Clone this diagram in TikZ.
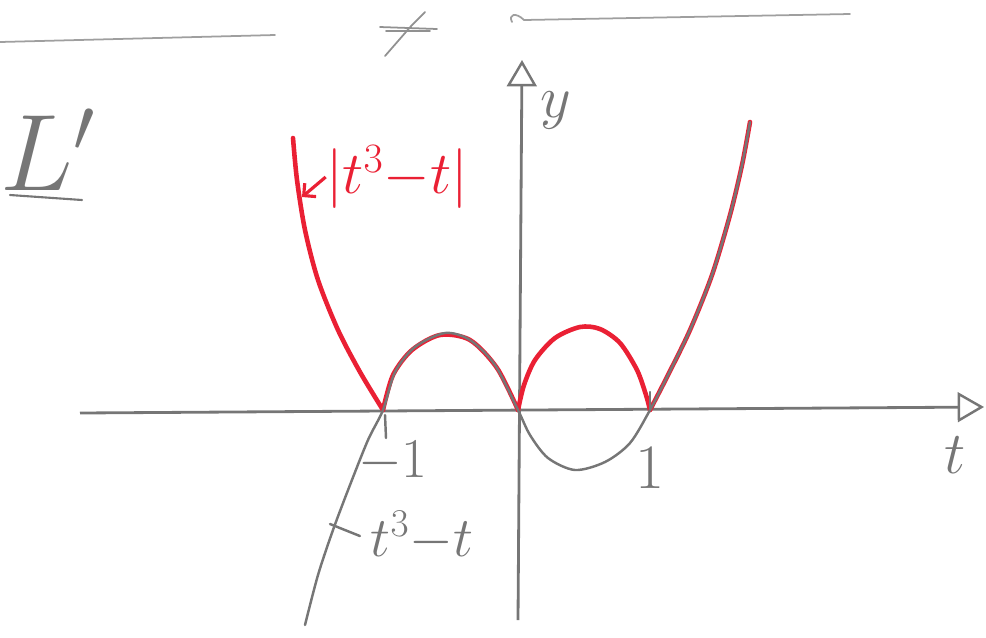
\RequirePackage{fix-cm}
\documentclass[tikz,border=0pt]{standalone}
\usetikzlibrary{arrows.meta,positioning}

\definecolor{pencil}{RGB}{118,118,118}
\definecolor{pen}{RGB}{234,32,52}

\tikzset{
  pencilline/.style={pencil, line width=1.4pt, line cap=round, line join=round},
  penline/.style={pen, line width=2.6pt, line cap=round, line join=round},
  axis/.style={pencil, line width=1.6pt, -{Triangle[open, length=15pt, width=17pt, line width=1.4pt]}},
  handlabel/.style={inner sep=0pt, font=\fontsize{34}{38}\selectfont},
}

\begin{document}
\begin{tikzpicture}[x=0.02cm, y=-0.02cm]
  \useasboundingbox (0,0) rectangle (986,637);

  % heading strokes
  \draw[pencilline, pencil!70, line width=1pt] (0,42) -- (275,35);
  \draw[pencilline, pencil!80, line width=1pt] (380,27) -- (437,29);
  \draw[pencilline, pencil!80, line width=1pt] (386,31) -- (430,31);
  \draw[pencilline, pencil!80, line width=1pt] (385,56) -- (412,25) -- (425,12);
  \draw[pencilline, pencil!70, line width=1pt] (512,22) .. controls (508,14) and (516,12) .. (524,20) -- (850,14);

  \node[handlabel, text=pencil, font=\fontsize{62}{66}\selectfont] (part) at (48,150) {$L'$};
  \draw[pencilline, line width=1.2pt] (10,195) -- (82,200);

  % axes
  \coordinate (origin) at (518,410);
  \draw[axis] (80,413) -- (984,407);
  \draw[axis] (518,620) -- (522,60);
  \node[handlabel, text=pencil] (tlabel) at (955,455) {$t$};
  \node[handlabel, text=pencil] (ylabel) at (556,110) {$y$};

  % |t^3-t| in red
  \draw[penline] plot[smooth] coordinates {(293,138) (297,180) (305,230) (318,280) (338,330) (360,372) (383,410)};
  \draw[penline] plot[smooth] coordinates {(383,410) (393,375) (412,350) (440,335) (470,340) (497,368) (518,410)};
  \draw[penline] plot[smooth] coordinates {(518,410) (524,385) (535,360) (555,338) (580,327) (600,329) (620,343) (637,370) (646,395) (650,410)};
  \draw[penline] plot[smooth] coordinates {(650,410) (668,375) (690,330) (712,275) (730,215) (742,165) (750,122)};

  % t^3-t in pencil
  \draw[pencilline] plot[smooth] coordinates {(305,625) (318,575) (333,530) (350,485) (368,440) (383,410)
    (395,372) (415,347) (445,333) (470,340) (495,365) (518,410)
    (530,435) (548,458) (575,470) (605,462) (630,443) (650,410)
    (668,375) (690,330) (712,275) (730,215) (742,165) (750,122)};

  % ticks
  \draw[pencilline] (385,415) -- (386,438);
  \draw[pencilline] (650,392) -- (650,410);

  % labels
  \node[handlabel, text=pen] (absval) at (397,177) {$|t^3{-}t|$};
  \coordinate (absvalpt) at (302,197);
  \draw[pen, line width=1.8pt, -{Straight Barb[length=5pt]}] (absval.west) -- (absvalpt);

  \node[handlabel, text=pencil, font=\fontsize{32}{36}\selectfont] (minusone) at (393,462) {$-1$};
  \node[handlabel, text=pencil, font=\fontsize{36}{40}\selectfont] (plusone) at (650,468) {$1$};

  \node[handlabel, text=pencil, font=\fontsize{32}{36}\selectfont] (cubic) at (422,536) {$t^3{-}t$};
  \coordinate (cubicpt) at (330,524);
  \draw[pencilline] (cubicpt) -- ([xshift=-6pt]cubic.west);
\end{tikzpicture}
\end{document}
